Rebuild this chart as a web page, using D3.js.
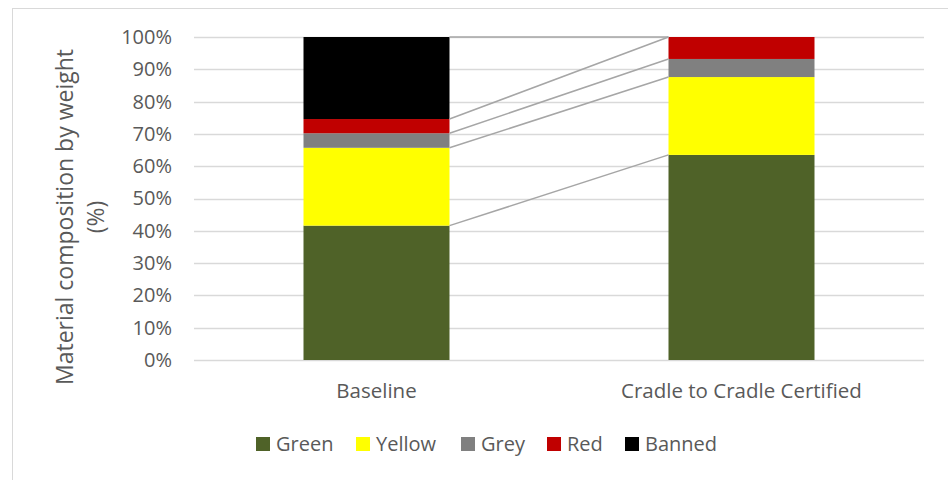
<!DOCTYPE html>
<html>
<head>
<meta charset="utf-8">
<script src="https://cdn.jsdelivr.net/npm/d3@7"></script>
<style>
  body { margin: 0; background: #fff; }
  text { font-family: "Open Sans", sans-serif; fill: #595959; }
</style>
</head>
<body>
<div id="chart"></div>
<script>
const categories = ['Baseline', 'Cradle to Cradle Certified'];
const seriesNames = ['Green', 'Yellow', 'Grey', 'Red', 'Banned'];
const green = [41.6, 63.5];
const yellow = [24.1, 24.1];
const grey = [4.5, 5.6];
const red = [4.4, 6.8];
const banned = [25.4, 0];
const colors = ['#4f6228', '#ffff00', '#808080', '#c00000', '#000000'];
const yTicks = [0, 10, 20, 30, 40, 50, 60, 70, 80, 90, 100];

const svgWidth = 948, svgHeight = 480;

const svg = d3.select('#chart')
  .append('svg')
  .attr('width', svgWidth)
  .attr('height', svgHeight);

// chart border
svg.append('rect')
  .attr('x', 12.5).attr('y', 8.5)
  .attr('width', 960).attr('height', 500)
  .attr('fill', 'none')
  .attr('stroke', '#d9d9d9');

const rows = categories.map((c, i) => ({
  cat: c, Green: green[i], Yellow: yellow[i], Grey: grey[i], Red: red[i], Banned: banned[i]
}));
const stacked = d3.stack().keys(seriesNames)(rows);

const x = d3.scaleBand().domain(categories).range([194, 924]).paddingInner(0.6).paddingOuter(0.3);
const y = d3.scaleLinear().domain([0, 100]).range([360, 37]);

// gridlines
svg.append('g')
  .selectAll('line')
  .data(yTicks)
  .enter()
  .append('line')
  .attr('x1', 194).attr('x2', 924)
  .attr('y1', d => Math.round(y(d)) + 0.5)
  .attr('y2', d => Math.round(y(d)) + 0.5)
  .attr('stroke', '#d9d9d9')
  .attr('stroke-width', 1.5);

// y axis labels
const yAxis = svg.append('g')
  .attr('transform', 'translate(182,0)')
  .call(d3.axisLeft(y).tickValues(yTicks).tickSize(0).tickPadding(10).tickFormat(d => d + '%'));
yAxis.select('.domain').remove();
yAxis.selectAll('text')
  .style('font-family', '"Open Sans", sans-serif')
  .style('font-size', '20px')
  .attr('fill', '#595959');

// bars
svg.append('g')
  .selectAll('g')
  .data(stacked)
  .enter()
  .append('g')
  .attr('fill', (d, i) => colors[i])
  .selectAll('rect')
  .data(d => d)
  .enter()
  .append('rect')
  .attr('x', d => x(d.data.cat))
  .attr('width', x.bandwidth())
  .attr('y', d => y(d[1]))
  .attr('height', d => y(d[0]) - y(d[1]));

// series lines between the two bars
svg.append('g')
  .selectAll('line')
  .data(stacked)
  .enter()
  .append('line')
  .attr('x1', x(categories[0]) + x.bandwidth())
  .attr('x2', x(categories[1]))
  .attr('y1', d => y(d[0][1]))
  .attr('y2', d => y(d[1][1]))
  .attr('stroke', '#a6a6a6')
  .attr('stroke-width', 1.5);

// category labels
svg.append('g')
  .selectAll('text')
  .data(categories)
  .enter()
  .append('text')
  .attr('x', d => x(d) + x.bandwidth() / 2)
  .attr('y', 398)
  .attr('text-anchor', 'middle')
  .style('font-size', '20.5px')
  .text(d => d);

// y title
const yTitle = svg.append('text')
  .attr('transform', 'translate(73,217) rotate(-90)')
  .attr('text-anchor', 'middle')
  .style('font-size', '23px');
yTitle.append('tspan').attr('x', 0).attr('y', 0).text('Material composition by weight');
yTitle.append('tspan').attr('x', 0).attr('y', 31).text('(%)');

// legend
const legendX = [256, 356, 461, 547, 625];
const legend = svg.append('g')
  .selectAll('g')
  .data(seriesNames)
  .enter()
  .append('g')
  .attr('transform', (d, i) => `translate(${legendX[i]},437)`);
legend.append('rect')
  .attr('width', 14).attr('height', 14)
  .attr('fill', (d, i) => colors[i]);
legend.append('text')
  .attr('x', 20).attr('y', 14)
  .style('font-size', '20px')
  .text(d => d);
</script>
</body>
</html>
